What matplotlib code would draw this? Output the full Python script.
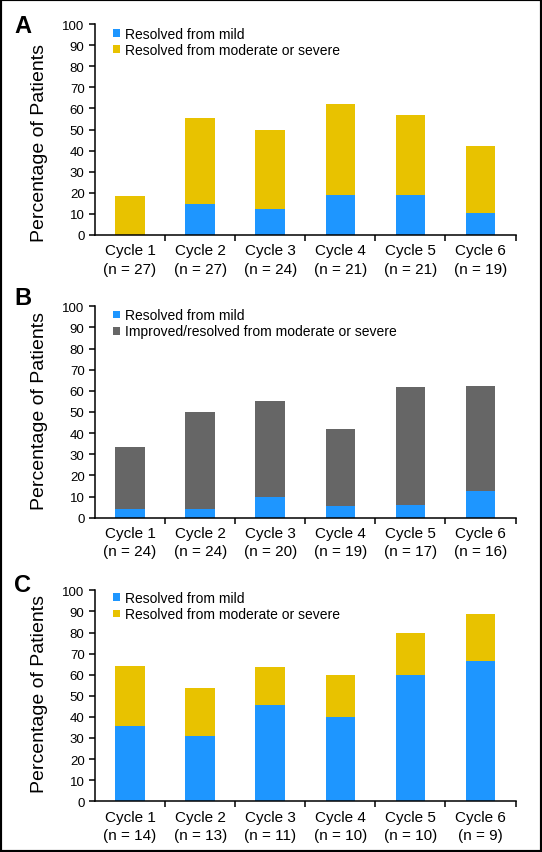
import matplotlib
matplotlib.use("Agg")
import matplotlib.pyplot as plt
from matplotlib.patches import Rectangle
import numpy as np

plt.rcParams['font.family'] = ['Liberation Sans', 'DejaVu Sans']

cycles = ["Cycle 1", "Cycle 2", "Cycle 3", "Cycle 4", "Cycle 5", "Cycle 6"]

n_a = [27, 27, 24, 21, 21, 19]
mild_a = [0.0, 14.8, 12.5, 19.0, 19.0, 10.5]
total_a = [18.5, 55.6, 50.0, 61.9, 57.1, 42.1]

n_b = [24, 24, 20, 19, 17, 16]
mild_b = [4.2, 4.2, 10.0, 5.3, 5.9, 12.5]
total_b = [33.3, 50.0, 55.0, 42.1, 61.8, 62.5]

n_c = [14, 13, 11, 10, 10, 9]
mild_c = [35.7, 30.8, 45.5, 40.0, 60.0, 66.7]
total_c = [64.3, 53.8, 63.6, 60.0, 80.0, 88.9]

legend_mild = "Resolved from mild"
legend_mod_ac = "Resolved from moderate or severe"
legend_mod_b = "Improved/resolved from moderate or severe"

BLUE = "#1E96FF"
YELLOW = "#E8C200"
GRAY = "#666666"

W, H = 542, 853
fig = plt.figure(figsize=(W / 100, H / 100), dpi=100)

panels = [
    ("A", n_a, mild_a, total_a, legend_mod_ac, YELLOW, 236.0, 25.0, 33, 143.5, 0.985),
    ("B", n_b, mild_b, total_b, legend_mod_b, GRAY, 518.7, 307.3, 305, 410.7, 0.99),
    ("C", n_c, mild_c, total_c, legend_mod_ac, YELLOW, 802.3, 591.3, 592, 694.0, 0.995),
]

left_px, right_px = 95.0, 515.5

for letter, ns, mild, total, lab2, col2, y0, y100, letter_y, ylab_y, leg_y in panels:
    ax = fig.add_axes([left_px / W, 1 - y0 / H, (right_px - left_px) / W, (y0 - y100) / H])
    x = np.arange(len(cycles))
    mild_arr = np.array(mild)
    rest = np.array(total) - mild_arr
    ax.bar(x, mild_arr, width=0.42, color=BLUE, label=legend_mild, linewidth=0)
    ax.bar(x, rest, width=0.42, bottom=mild_arr, color=col2, label=lab2, linewidth=0)
    ax.set_xlim(-0.5, len(cycles) - 0.5)
    ax.set_ylim(0, 100)
    ax.set_yticks(np.arange(0, 101, 10))
    ax.tick_params(axis='y', labelsize=9.5, length=4.5, width=1.1, pad=3, direction='out')
    ax.set_xticks(np.arange(0.5, len(cycles) - 0.5 + 0.01, 1.0))
    ax.set_xticklabels([])
    ax.tick_params(axis='x', which='major', length=4.5, width=1.1, direction='out')
    ax.set_xticks(x, minor=True)
    ax.set_xticklabels([f"{c}\n(n = {n})" for c, n in zip(cycles, ns)], minor=True,
                       fontsize=11, linespacing=1.4)
    ax.tick_params(axis='x', which='minor', length=0, pad=6)
    for s in ['top', 'right']:
        ax.spines[s].set_visible(False)
    for s in ['left', 'bottom']:
        ax.spines[s].set_linewidth(1.1)
    ax.legend(loc='upper left', bbox_to_anchor=(0.043, leg_y), frameon=False,
              fontsize=10, handlelength=0.5, handleheight=0.5, handletextpad=0.35,
              labelspacing=0.15, borderpad=0, borderaxespad=0)
    fig.text(14 / W, 1 - letter_y / H, letter, fontsize=17, fontweight='bold',
             ha='left', va='baseline')
    fig.text(40 / W, 1 - ylab_y / H, "Percentage of Patients", fontsize=14,
             rotation=90, ha='center', va='center')

fig.patches.append(Rectangle((0, 0), 1, 1, transform=fig.transFigure, fill=False,
                             edgecolor='black', linewidth=3))

fig.savefig("out.png", dpi=100)
